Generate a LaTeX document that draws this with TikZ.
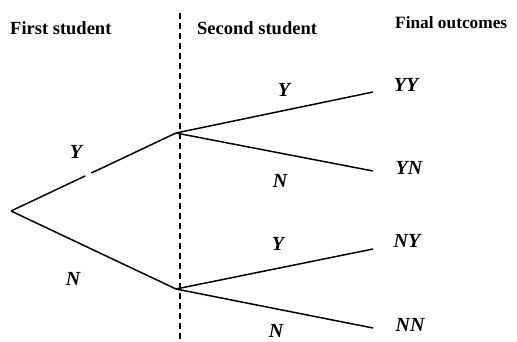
\documentclass[tikz,border=0pt]{standalone}
\usepackage{fontspec}
\setmainfont{Liberation Serif}
\usetikzlibrary{calc}
\begin{document}
\begin{tikzpicture}[x=1pt,y=-1pt,
  branch/.style={line width=1.5pt},
  head/.style={font=\fontsize{18.5}{20}\selectfont\bfseries, inner sep=0pt},
  lbl/.style={font=\fontsize{20}{22}\selectfont\bfseries\itshape, inner sep=0pt},
  divider/.style={line width=1.2pt, dash pattern=on 6pt off 4pt}]
\useasboundingbox (0,0) rectangle (517,341);

% headings
\node[head, anchor=west] (h1) at (10,28) {First student};
\node[head, anchor=west] (h2) at (197,28) {Second student};
\node[head, anchor=west, font=\fontsize{17.3}{20}\selectfont\bfseries] (h3) at (395,23) {Final outcomes};

% divider between the two stages
\coordinate (dtop) at (180,13);
\coordinate (dbot) at (180,340);
\draw[divider] (dtop) -- (dbot);

% tree points
\coordinate (root) at (11,211);
\coordinate (mY) at (176,133);
\coordinate (mN) at (176,289);
\coordinate (lYY) at (373,92);
\coordinate (lYN) at (373,171);
\coordinate (lNY) at (373,249);
\coordinate (lNN) at (373,328);

% first stage (the Y branch is broken by a short gap)
\coordinate (g1) at ($(root)!0.45!(mY)$);
\coordinate (g2) at ($(root)!0.487!(mY)$);
\draw[branch] (root) -- (g1);
\draw[branch] (g2) -- (mY);
\draw[branch] (root) -- (mN);

% second stage
\draw[branch] (mY) -- (lYY);
\draw[branch] (mY) -- (lYN);
\draw[branch] (mN) -- (lNY);
\draw[branch] (mN) -- (lNN);

% branch labels
\node[lbl] (b1) at (76,152) {Y};
\node[lbl] (b2) at (73,279) {N};
\node[lbl] (b3) at (284,90) {Y};
\node[lbl] (b4) at (280,181) {N};
\node[lbl] (b5) at (278,244) {Y};
\node[lbl] (b6) at (276,331) {N};

% outcomes
\node[lbl] (oYY) at (406,85) {YY};
\node[lbl] (oYN) at (409,168) {YN};
\node[lbl] (oNY) at (407,241) {NY};
\node[lbl] (oNN) at (410,325) {NN};
\end{tikzpicture}
\end{document}
